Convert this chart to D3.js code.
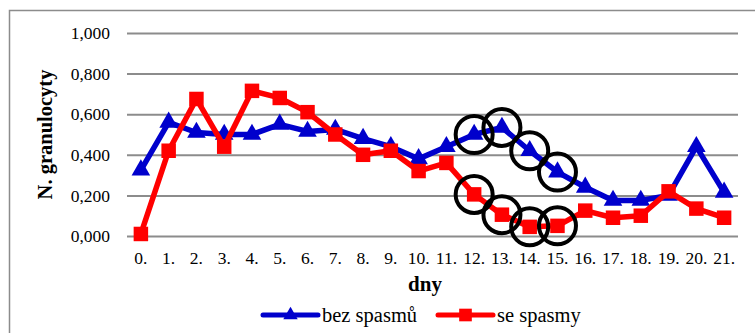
<!DOCTYPE html>
<html>
<head>
<meta charset="utf-8">
<script src="https://cdn.jsdelivr.net/npm/d3@7"></script>
<style>
  html, body { margin: 0; padding: 0; background: #fff; }
  svg { display: block; }
</style>
</head>
<body>
<svg id="chart" width="755" height="333"></svg>
<script>
// Days of observation
const days = ["0.", "1.", "2.", "3.", "4.", "5.", "6.", "7.", "8.", "9.", "10.",
              "11.", "12.", "13.", "14.", "15.", "16.", "17.", "18.", "19.", "20.", "21."];
// Neutrophil granulocytes, patients without spasms
const bezSpasmu = [0.325, 0.56, 0.51, 0.50, 0.50, 0.55, 0.515, 0.525, 0.48, 0.44, 0.38,
                   0.44, 0.50, 0.535, 0.42, 0.315, 0.24, 0.175, 0.175, 0.20, 0.44, 0.215];
// Neutrophil granulocytes, patients with spasms
const seSpasmy = [0.01, 0.42, 0.675, 0.44, 0.715, 0.68, 0.61, 0.50, 0.40, 0.42, 0.32,
                  0.36, 0.205, 0.105, 0.045, 0.05, 0.125, 0.09, 0.10, 0.22, 0.135, 0.09];
// Highlighted days (circled on both series)
const highlighted = ["12.", "13.", "14.", "15."];
const yTicks = [0, 0.2, 0.4, 0.6, 0.8, 1.0];
const seriesNames = ["bez spasmů", "se spasmy"];
const seriesColors = ["#0000cc", "#ff0000"];

const FONT = "'Liberation Serif', 'Times New Roman', serif";
const svg = d3.select("#chart");

// outer chart frame
svg.append("rect")
  .attr("x", 9.5).attr("y", 10.5)
  .attr("width", 760).attr("height", 340)
  .attr("fill", "none").attr("stroke", "#8c8c8c").attr("stroke-width", 1.5);

const plot = { left: 127, right: 738, top: 33, bottom: 236 };

const x = d3.scaleBand().domain(days).range([plot.left, plot.right]);
const y = d3.scaleLinear().domain([0, 1]).range([plot.bottom, plot.top]);

const fmt = v => d3.format(".3f")(v).replace(".", ",");

// horizontal gridlines + y labels
const yAxis = d3.axisLeft(y).tickValues(yTicks).tickFormat(fmt)
  .tickSize(-(plot.right - plot.left)).tickPadding(17);
const gy = svg.append("g").attr("transform", `translate(${plot.left},0)`).call(yAxis);
gy.select(".domain").remove();
gy.selectAll(".tick line").attr("stroke", "#8c8c8c").attr("stroke-width", 2);
gy.selectAll(".tick text").attr("font-size", 17.5)
  .style("font-family", FONT).attr("fill", "#000");

// x labels
const xAxis = d3.axisBottom(x).tickSize(0).tickPadding(16);
const gx = svg.append("g").attr("transform", `translate(0,${plot.bottom})`).call(xAxis);
gx.select(".domain").remove();
gx.selectAll(".tick text").attr("font-size", 17.5)
  .style("font-family", FONT).attr("fill", "#000");

// axis titles
svg.append("text")
  .attr("x", 425).attr("y", 291)
  .attr("text-anchor", "middle").attr("font-size", 21).attr("font-weight", "bold")
  .style("font-family", FONT)
  .text("dny");
svg.append("text")
  .attr("transform", `translate(52,${(plot.top + plot.bottom) / 2}) rotate(-90)`)
  .attr("text-anchor", "middle").attr("font-size", 20.5).attr("font-weight", "bold")
  .style("font-family", FONT)
  .text("N. granulocyty");

const cx = d => x(d) + x.bandwidth() / 2;
const line = d3.line().x((v, i) => cx(days[i])).y(v => y(v));

const triangle = d3.symbol().type(d3.symbolTriangle).size(150);
const square = d3.symbol().type(d3.symbolSquare).size(210);

function drawSeries(values, color, sym) {
  svg.append("path").datum(values)
    .attr("d", line).attr("fill", "none")
    .attr("stroke", color).attr("stroke-width", 5.5).attr("stroke-linejoin", "round");
  svg.append("g").selectAll("path").data(values).join("path")
    .attr("d", sym)
    .attr("transform", (v, i) => `translate(${cx(days[i])},${y(v)})`)
    .attr("fill", color);
}
drawSeries(bezSpasmu, seriesColors[0], triangle);
drawSeries(seSpasmy, seriesColors[1], square);

// highlight circles
[bezSpasmu, seSpasmy].forEach(values => {
  svg.append("g").selectAll("circle").data(highlighted).join("circle")
    .attr("cx", d => cx(d))
    .attr("cy", d => y(values[days.indexOf(d)]))
    .attr("r", 18.5)
    .attr("fill", "none").attr("stroke", "#000").attr("stroke-width", 4);
});

// legend (smaller markers than in the plot)
const legendItems = [
  { name: seriesNames[0], color: seriesColors[0], sym: d3.symbol().type(d3.symbolTriangle).size(90), x0: 263 },
  { name: seriesNames[1], color: seriesColors[1], sym: d3.symbol().type(d3.symbolSquare).size(160), x0: 438 }
];
const lg = svg.append("g").attr("transform", "translate(0,315)");
legendItems.forEach(it => {
  lg.append("line").attr("x1", it.x0).attr("x2", it.x0 + 55).attr("y1", 0).attr("y2", 0)
    .attr("stroke", it.color).attr("stroke-width", 5).attr("stroke-linecap", "round");
  lg.append("path").attr("d", it.sym).attr("transform", `translate(${it.x0 + 27.5},0)`)
    .attr("fill", it.color);
  lg.append("text").attr("x", it.x0 + 59).attr("y", 6.5).attr("font-size", 20.5)
    .style("font-family", FONT).text(it.name);
});
</script>
</body>
</html>
